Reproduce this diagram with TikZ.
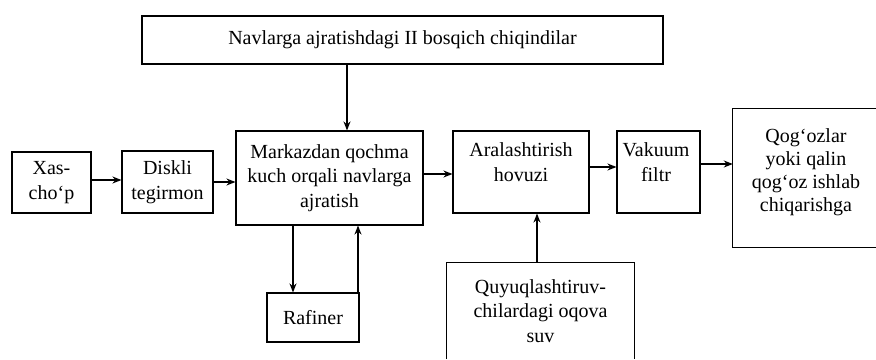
\documentclass[tikz,border=0pt]{standalone}
\usepackage{fontspec}
\setmainfont{Liberation Serif}
\usetikzlibrary{arrows.meta}
\begin{document}
\begin{tikzpicture}[x=1pt,y=-1pt,
  box/.style={draw, line width=1.1pt, inner sep=0pt, align=center, font=\fontsize{20}{24.5}\selectfont},
  txt/.style={inner sep=0pt, align=center, font=\fontsize{20}{24.5}\selectfont},
  arr/.style={line width=1.4pt, -{Stealth[length=9pt,width=7pt]}}]
\useasboundingbox (0,0) rectangle (876,359);
% boxes
\node[box, minimum width=521pt, minimum height=48pt] (top) at (402.5,40) {Navlarga ajratishdagi II bosqich chiqindilar};
\node[box, minimum width=79pt, minimum height=61pt] (xas) at (51.5,182.5) {Xas-\\cho‘p};
\node[box, minimum width=91pt, minimum height=62pt] (disk) at (167.5,182) {Diskli\\tegirmon};
\node[box, minimum width=187pt, minimum height=94pt] (mark) at (329.5,178) {Markazdan qochma\\kuch orqali navlarga\\ajratish};
\node[box, minimum width=92pt, minimum height=49pt] (raf) at (313,317.5) {Rafiner};
\node[box, minimum width=136pt, minimum height=82pt] (aral) at (521,172) {};
\node[txt] (aralt) at (521,162) {Aralashtirish\\hovuzi};
\node[box, minimum width=83pt, minimum height=82pt] (vak) at (658.5,172) {};
\node[txt] (vakt) at (656,162) {Vakuum\\filtr};
\node[txt, minimum width=143pt, minimum height=138pt, font=\fontsize{20}{23}\selectfont] (qog) at (804.5,178) {};
\node[txt, font=\fontsize{20}{23}\selectfont] (qogt) at (806,172) {Qog‘ozlar\\yoki qalin\\qog‘oz ishlab\\chiqarishga};
\draw[line width=1.1pt] (qog.north east) -- (qog.north west) -- (qog.south west) -- (qog.south east);
\node[txt, minimum width=187pt, minimum height=96pt] (quy) at (540.5,311) {Quyuqlashtiruv-\\chilardagi oqova\\suv};
\draw[line width=1.1pt] (quy.south west) -- (quy.north west) -- (quy.north east) -- (quy.south east);
% arrows
\draw[arr] ([xshift=17.5pt]mark.north |- top.south) -- ([xshift=17.5pt]mark.north);
\draw[arr] ([yshift=2.5pt]xas.east) -- ([yshift=2.5pt]xas.east -| disk.west);
\draw[arr] (disk.east) -- (disk.east -| mark.west);
\draw[arr] ([yshift=4pt]mark.east) -- ([yshift=4pt]mark.east -| aral.west);
\draw[arr] ([yshift=5pt]aral.east) -- ([yshift=5pt]aral.east -| vak.west);
\draw[arr] ([yshift=8pt]vak.east) -- ([yshift=8pt]vak.east -| qog.west);
\draw[arr] ([xshift=-20pt]raf.north |- mark.south) -- ([xshift=-20pt]raf.north);
\draw[arr] ([xshift=45pt]raf.north) -- ([xshift=45pt]raf.north |- mark.south);
\draw[arr] ([xshift=-3.5pt]quy.north) -- ([xshift=-3.5pt]quy.north |- aral.south);
\end{tikzpicture}
\end{document}
